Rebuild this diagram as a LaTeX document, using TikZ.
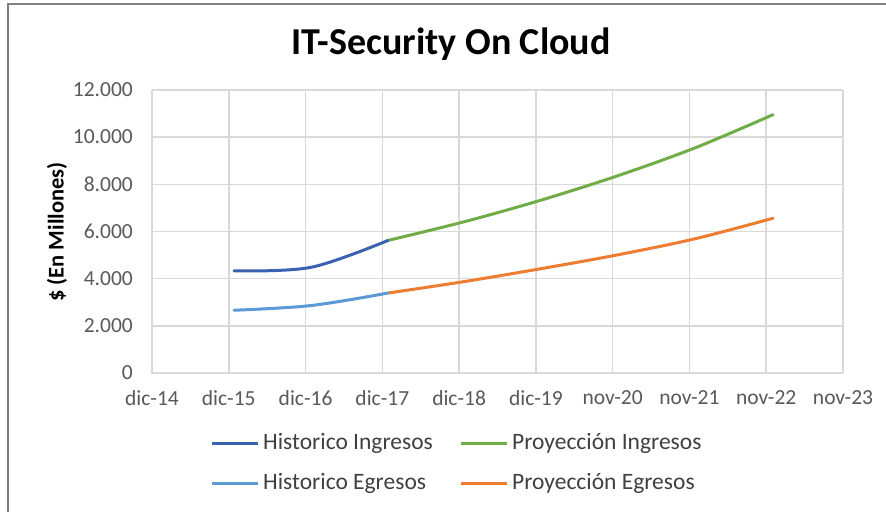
\documentclass[tikz,border=0pt]{standalone}
\usepackage{fontspec}
\setmainfont{Carlito}
\definecolor{gridc}{HTML}{D9D9D9}
\definecolor{tickc}{HTML}{595959}
\definecolor{legc}{HTML}{404040}
\definecolor{histin}{HTML}{3A62B0}
\definecolor{histeg}{HTML}{5B9BD5}
\definecolor{proyin}{HTML}{70AD47}
\definecolor{proyeg}{HTML}{ED7D31}
\definecolor{framec}{HTML}{808080}
\tikzset{
  gridline/.style={draw=gridc, line width=1.5pt},
  series/.style={line width=3pt, line cap=round, line join=round},
  ticklab/.style={text=tickc, font=\fontsize{21.5}{23}\selectfont, inner sep=0pt},
  leglab/.style={text=legc, font=\fontsize{23.5}{25}\selectfont, inner sep=0pt, anchor=west},
}
\newcommand{\Yv}[1]{373-#1*0.0235833}
\begin{document}
\begin{tikzpicture}[x=1pt,y=-1pt]
\useasboundingbox (0,0) rectangle (886,512);
\fill[white] (0,0) rectangle (886,512);
% frame
\draw[framec, line width=1.5pt] (8,512) -- (8,4) -- (886,4);
% title
\node[font=\bfseries\fontsize{38}{40}\selectfont, text=black] (title) at (451,44) {IT-Security On Cloud};
% horizontal gridlines
\foreach \v in {2000,4000,...,12000}{
  \draw[gridline] (152,{\Yv{\v}}) -- (843,{\Yv{\v}});
}
% vertical gridlines
\foreach \i in {1,...,9}{
  \draw[gridline] ({152+\i*76.78},90) -- ({152+\i*76.78},373);
}
\draw[gridline] (152,90) -- (152,373) -- (843,373);
% y tick labels
\foreach \v/\t in {0/0,2000/2.000,4000/4.000,6000/6.000,8000/8.000,10000/10.000,12000/12.000}{
  \node[ticklab, anchor=east] (yl\v) at (133,{\Yv{\v}}) {\t};
}
% x tick labels
\foreach \i/\t in {0/dic-14,1/dic-15,2/dic-16,3/dic-17,4/dic-18,5/dic-19,6/nov-20,7/nov-21,8/nov-22,9/nov-23}{
  \node[ticklab] (xl\i) at ({152+\i*76.78},398) {\t};
}
% axis title
\node[rotate=90, font=\bfseries\fontsize{22.5}{24}\selectfont, text=black] (ytitle) at (57,232) {\$ (En Millones)};
% series
\draw[series, proyin] plot[smooth, tension=0.55] coordinates {
  (388,{\Yv{5620}}) (465,{\Yv{6420}}) (542,{\Yv{7340}}) (619,{\Yv{8380}}) (696,{\Yv{9560}}) (773,{\Yv{10950}})};
\draw[series, proyeg] plot[smooth, tension=0.55] coordinates {
  (388,{\Yv{3390}}) (465,{\Yv{3880}}) (542,{\Yv{4430}}) (619,{\Yv{5020}}) (696,{\Yv{5700}}) (773,{\Yv{6560}})};
\draw[series, histin] plot[smooth, tension=0.55] coordinates {
  (234,{\Yv{4330}}) (311,{\Yv{4480}}) (388,{\Yv{5620}})};
\draw[series, histeg] plot[smooth, tension=0.55] coordinates {
  (234,{\Yv{2660}}) (311,{\Yv{2860}}) (388,{\Yv{3390}})};
% legend
\coordinate (l1a) at (212,443); \coordinate (l1b) at (258,443);
\coordinate (l2a) at (461,443); \coordinate (l2b) at (507,443);
\coordinate (l3a) at (212,483); \coordinate (l3b) at (258,483);
\coordinate (l4a) at (461,483); \coordinate (l4b) at (507,483);
\draw[series, line cap=butt, histin] (l1a) -- (l1b);
\draw[series, line cap=butt, proyin] (l2a) -- (l2b);
\draw[series, line cap=butt, histeg] (l3a) -- (l3b);
\draw[series, line cap=butt, proyeg] (l4a) -- (l4b);
\node[leglab] (t1) at (263,443) {Historico Ingresos};
\node[leglab] (t2) at (512,443) {Proyección Ingresos};
\node[leglab] (t3) at (263,483) {Historico Egresos};
\node[leglab] (t4) at (512,483) {Proyección Egresos};
\end{tikzpicture}
\end{document}
